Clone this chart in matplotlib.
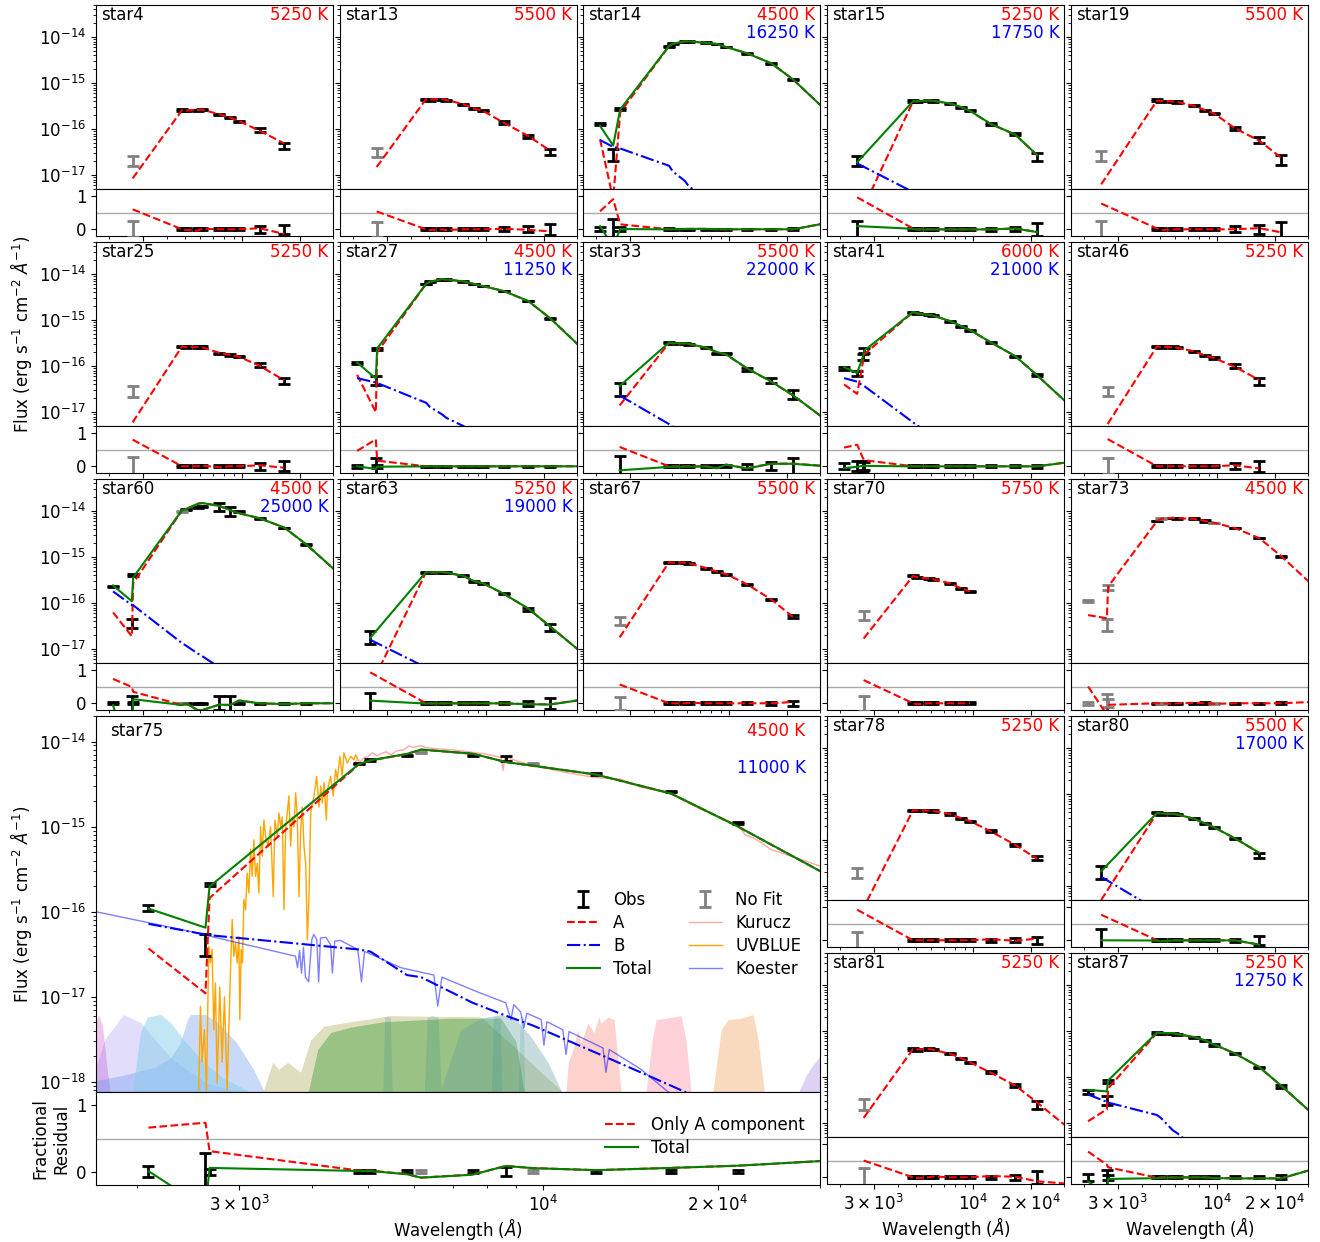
import numpy as np
import matplotlib.pyplot as plt
from matplotlib.ticker import FixedLocator, FixedFormatter, LogLocator, NullFormatter

plt.rcParams['font.family'] = 'DejaVu Sans'
plt.rcParams['font.size'] = 12
plt.rcParams['xtick.labelsize'] = 12
plt.rcParams['ytick.labelsize'] = 12

# ---------------- photometry + fitted models (wavelength in Angstrom) ----------------
s4_wl = [2650, 4820, 5047, 5834, 6170, 7570, 8630, 9610, 12340, 16630]
s4_f = [2.1e-17, 2.6e-16, 2.5e-16, 2.5e-16, 2.7e-16, 2.1e-16, 1.8e-16, 1.5e-16, 9.5e-17, 4.3e-17]
s4_e = [5e-18, 8e-18, 8e-18, 8e-18, 8e-18, 6e-18, 5e-18, 4e-18, 1.0e-17, 6e-18]
s4_fit = [0, 1, 1, 1, 1, 1, 1, 1, 1, 1]
s4_a = [8.5e-18, 2.6e-16, 2.55e-16, 2.6e-16, 2.65e-16, 2.1e-16, 1.8e-16, 1.5e-16, 9.2e-17, 4.9e-17]

s13_wl = [2650, 4820, 5047, 5834, 6170, 7570, 8630, 9610, 12340, 16630, 21680]
s13_f = [3.2e-17, 4.5e-16, 4.3e-16, 4.5e-16, 4.2e-16, 3.5e-16, 2.8e-16, 2.5e-16, 1.4e-16, 7.0e-17, 3.2e-17]
s13_e = [7e-18, 1.2e-17, 1.2e-17, 1.2e-17, 1.2e-17, 9e-18, 8e-18, 7e-18, 8e-18, 6e-18, 5e-18]
s13_fit = [0, 1, 1, 1, 1, 1, 1, 1, 1, 1, 1]
s13_a = [1.5e-17, 4.5e-16, 4.4e-16, 4.5e-16, 4.3e-16, 3.5e-16, 2.8e-16, 2.5e-16, 1.38e-16, 7.1e-17, 3.4e-17]

s14_wl = [2090, 2450, 2667, 4820, 5047, 5834, 6170, 7570, 8630, 9610, 12340, 16630, 21680, 33500]
s14_f = [1.3e-16, 2.9e-17, 2.7e-16, 6.4e-15, 7.2e-15, 8.2e-15, 8.2e-15, 7.6e-15, 7.1e-15, 6.1e-15, 4.5e-15, 2.7e-15, 1.2e-15, 2.75e-16]
s14_e = [8e-18, 8.7e-18, 1.5e-17, 1.5e-16, 1.5e-16, 1.8e-16, 1.8e-16, 1.5e-16, 1.5e-16, 1.2e-16, 9e-17, 5e-17, 3e-17, 1e-17]
s14_fit = [1, 1, 1, 1, 1, 1, 1, 1, 1, 1, 1, 1, 1, 1]
s14_a = [6.0e-17, 3.0e-18, 2.3e-16, 6.4e-15, 7.2e-15, 8.1e-15, 8.1e-15, 7.5e-15, 7.1e-15, 6.1e-15, 4.5e-15, 2.7e-15, 1.2e-15, 2.2e-16]
s14_b = [5.8e-17, 4.1e-17, 3.8e-17, 1.6e-17, 1.2e-17, 7.5e-18, 5.5e-18, 3.5e-18, 2.3e-18, 1.8e-18, 9e-19, 4e-19, 2e-19, 5e-20]

s15_wl = [2450, 4820, 5047, 5834, 6170, 7570, 8630, 9610, 12340, 16630, 21680]
s15_f = [2.1e-17, 4.1e-16, 4.0e-16, 4.2e-16, 4.1e-16, 3.6e-16, 3.0e-16, 2.5e-16, 1.3e-16, 7.8e-17, 2.5e-17]
s15_e = [5e-18, 1.2e-17, 1.2e-17, 1.2e-17, 1.2e-17, 1e-17, 8e-18, 7e-18, 5e-18, 5e-18, 5e-18]
s15_fit = [1, 1, 1, 1, 1, 1, 1, 1, 1, 1, 1]
s15_a = [1.0e-18, 4.0e-16, 4.0e-16, 4.2e-16, 4.1e-16, 3.6e-16, 3.0e-16, 2.5e-16, 1.3e-16, 7.6e-17, 2.7e-17]
s15_b = [1.8e-17, 4.3e-18, 3.8e-18, 2.7e-18, 2.4e-18, 1.6e-18, 1.2e-18, 9e-19, 5e-19, 2.5e-19, 1.2e-19]

s19_wl = [2450, 4820, 5047, 5834, 6170, 7570, 8630, 9610, 12340, 16630, 21680]
s19_f = [2.7e-17, 4.3e-16, 4.0e-16, 4.0e-16, 3.9e-16, 3.2e-16, 2.6e-16, 2.2e-16, 1.05e-16, 5.8e-17, 2.2e-17]
s19_e = [7e-18, 1.2e-17, 1.2e-17, 1.2e-17, 1.1e-17, 9e-18, 7e-18, 6e-18, 9e-18, 8e-18, 5e-18]
s19_fit = [0, 1, 1, 1, 1, 1, 1, 1, 1, 1, 1]
s19_a = [6.3e-18, 4.2e-16, 4.1e-16, 4.0e-16, 3.9e-16, 3.2e-16, 2.6e-16, 2.2e-16, 1.05e-16, 5.6e-17, 2.4e-17]

s25_wl = [2650, 4820, 5047, 5834, 6170, 7570, 8630, 9610, 12340, 16630]
s25_f = [2.9e-17, 2.7e-16, 2.6e-16, 2.6e-16, 2.6e-16, 1.9e-16, 1.75e-16, 1.6e-16, 1.05e-16, 4.7e-17]
s25_e = [8e-18, 8e-18, 8e-18, 8e-18, 8e-18, 6e-18, 5e-18, 5e-18, 1.1e-17, 7e-18]
s25_fit = [0, 1, 1, 1, 1, 1, 1, 1, 1, 1]
s25_a = [6.0e-18, 2.7e-16, 2.6e-16, 2.6e-16, 2.55e-16, 1.95e-16, 1.75e-16, 1.6e-16, 1.02e-16, 4.9e-17]

s27_wl = [2090, 2624, 2667, 4820, 5047, 5834, 6170, 7570, 8630, 9610, 12340, 16630, 21680, 33500]
s27_f = [1.2e-16, 5.0e-17, 2.4e-16, 6.1e-15, 6.8e-15, 7.8e-15, 7.6e-15, 7.0e-15, 6.1e-15, 5.5e-15, 4.3e-15, 2.6e-15, 1.1e-15, 2.0e-16]
s27_e = [6e-18, 1.2e-17, 1e-17, 1.2e-16, 1.4e-16, 1.6e-16, 1.5e-16, 1.4e-16, 1.2e-16, 1.1e-16, 9e-17, 5e-17, 2.5e-17, 1e-17]
s27_fit = [1, 1, 1, 1, 1, 1, 1, 1, 1, 1, 1, 1, 1, 1]
s27_a = [6.5e-17, 1.0e-17, 2.0e-16, 6.1e-15, 6.8e-15, 7.8e-15, 7.6e-15, 7.0e-15, 6.1e-15, 5.5e-15, 4.3e-15, 2.6e-15, 1.1e-15, 2.0e-16]
s27_b = [5.5e-17, 4.4e-17, 4.3e-17, 1.6e-17, 1.3e-17, 9e-18, 7.5e-18, 5e-18, 3.3e-18, 2.6e-18, 1.4e-18, 7e-19, 3e-19, 8e-20]

s33_wl = [2650, 4820, 5047, 5834, 6170, 7570, 8630, 9610, 12340, 16630, 21680, 33500]
s33_f = [3.3e-17, 3.2e-16, 3.1e-16, 3.1e-16, 3.0e-16, 2.5e-16, 1.9e-16, 1.9e-16, 8.5e-17, 5.0e-17, 2.5e-17, 6e-18]
s33_e = [1.0e-17, 8e-18, 8e-18, 8e-18, 8e-18, 6e-18, 5e-18, 5e-18, 6e-18, 6e-18, 6e-18, 2e-18]
s33_fit = [1, 1, 1, 1, 1, 1, 1, 1, 1, 1, 1, 1]
s33_a = [1.4e-17, 3.2e-16, 3.1e-16, 3.1e-16, 3.0e-16, 2.5e-16, 2.0e-16, 1.8e-16, 9.0e-17, 4.6e-17, 2.3e-17, 6e-18]
s33_b = [2.3e-17, 5.5e-18, 4.8e-18, 3.3e-18, 2.9e-18, 1.9e-18, 1.4e-18, 1.1e-18, 6e-19, 3e-19, 1.5e-19, 4e-20]

s41_wl = [2090, 2450, 2624, 2667, 4820, 5047, 5834, 6170, 7570, 8630, 9610, 12340, 16630, 21680, 33500]
s41_f = [9e-17, 7e-17, 1.6e-16, 2.2e-16, 1.5e-15, 1.4e-15, 1.3e-15, 1.25e-15, 9.5e-16, 7.4e-16, 6.1e-16, 3.3e-16, 1.65e-16, 6.3e-17, 1.4e-17]
s41_e = [8e-18, 1e-17, 2.5e-17, 2.5e-17, 4e-17, 4e-17, 3.5e-17, 3.5e-17, 2.5e-17, 2e-17, 1.6e-17, 9e-18, 5e-18, 3e-18, 2e-18]
s41_fit = [1, 1, 1, 1, 1, 1, 1, 1, 1, 1, 1, 1, 1, 1, 1]
s41_a = [4e-17, 2.5e-17, 1.2e-16, 1.8e-16, 1.5e-15, 1.4e-15, 1.3e-15, 1.25e-15, 9.5e-16, 7.4e-16, 6.1e-16, 3.3e-16, 1.65e-16, 6.3e-17, 1.2e-17]
s41_b = [5.5e-17, 4.6e-17, 3.8e-17, 3.7e-17, 6e-18, 5.2e-18, 3.6e-18, 3.1e-18, 2e-18, 1.5e-18, 1.2e-18, 6e-19, 3e-19, 1.4e-19, 4e-20]

s46_wl = [2650, 4820, 5047, 5834, 6170, 7570, 8630, 9610, 12340, 16630]
s46_f = [2.9e-17, 2.7e-16, 2.6e-16, 2.6e-16, 2.5e-16, 2.1e-16, 1.7e-16, 1.5e-16, 1.0e-16, 4.7e-17]
s46_e = [7e-18, 8e-18, 8e-18, 8e-18, 8e-18, 6e-18, 5e-18, 5e-18, 9e-18, 8e-18]
s46_fit = [0, 1, 1, 1, 1, 1, 1, 1, 1, 1]
s46_a = [5.5e-18, 2.7e-16, 2.6e-16, 2.6e-16, 2.5e-16, 2.1e-16, 1.7e-16, 1.5e-16, 9.7e-17, 5.0e-17]

s60_wl = [2090, 2624, 2667, 4820, 5047, 5834, 6170, 7570, 8630, 9610, 12340, 16630, 21680, 33500]
s60_f = [2.3e-16, 3.7e-17, 4.1e-16, 1.0e-14, 1.1e-14, 1.2e-14, 1.25e-14, 1.25e-14, 1.0e-14, 9.8e-15, 7.0e-15, 4.3e-15, 1.9e-15, 3.8e-16]
s60_e = [8e-18, 8e-18, 1.2e-17, 2e-16, 2.2e-16, 2.4e-16, 2.5e-16, 2.6e-15, 2.2e-15, 2e-16, 1.4e-16, 9e-17, 4e-17, 1e-17]
s60_fit = [1, 1, 1, 0, 1, 1, 1, 1, 1, 1, 1, 1, 1, 1]
s60_a = [6.3e-17, 1.9e-17, 2.7e-16, 1.05e-14, 1.1e-14, 1.45e-14, 1.5e-14, 1.3e-14, 1.05e-14, 9.0e-15, 7.0e-15, 4.4e-15, 1.9e-15, 3.8e-16]
s60_b = [1.8e-16, 9.1e-17, 9.0e-17, 1.35e-17, 1.2e-17, 8e-18, 7e-18, 4e-18, 2.8e-18, 2.2e-18, 1.1e-18, 5e-19, 2.2e-19, 6e-20]

s63_wl = [2450, 4820, 5047, 5834, 6170, 7570, 8630, 9610, 12340, 16630, 21680, 33500]
s63_f = [1.9e-17, 4.7e-16, 4.6e-16, 4.7e-16, 4.6e-16, 3.9e-16, 3.0e-16, 2.7e-16, 1.6e-16, 7.4e-17, 3.0e-17, 8e-18]
s63_e = [6e-18, 1.2e-17, 1.2e-17, 1.2e-17, 1.2e-17, 1e-17, 8e-18, 7e-18, 5e-18, 6e-18, 5e-18, 2e-18]
s63_fit = [1, 1, 1, 1, 1, 1, 1, 1, 1, 1, 1, 1]
s63_a = [1.5e-18, 4.7e-16, 4.6e-16, 4.7e-16, 4.6e-16, 3.9e-16, 3.0e-16, 2.7e-16, 1.6e-16, 7.6e-17, 3.1e-17, 7e-18]
s63_b = [1.6e-17, 4e-18, 3.5e-18, 2.5e-18, 2.2e-18, 1.4e-18, 1e-18, 8e-19, 4e-19, 2e-19, 1e-19, 3e-20]

s67_wl = [2650, 4820, 5047, 5834, 6170, 7570, 8630, 9610, 12340, 16630, 21680]
s67_f = [4.1e-17, 7.8e-16, 7.6e-16, 7.6e-16, 7.4e-16, 5.8e-16, 4.8e-16, 4.3e-16, 2.6e-16, 1.2e-16, 5.2e-17]
s67_e = [8e-18, 2e-17, 2e-17, 2e-17, 2e-17, 1.5e-17, 1.2e-17, 1.1e-17, 7e-18, 5e-18, 4e-18]
s67_fit = [0, 1, 1, 1, 1, 1, 1, 1, 1, 1, 1]
s67_a = [1.8e-17, 7.8e-16, 7.6e-16, 7.6e-16, 7.3e-16, 5.8e-16, 4.8e-16, 4.3e-16, 2.6e-16, 1.2e-16, 5.0e-17]

s70_wl = [2650, 4820, 5047, 5834, 6170, 7570, 8630, 9610]
s70_f = [5.5e-17, 3.9e-16, 3.6e-16, 3.4e-16, 3.3e-16, 2.7e-16, 2.1e-16, 1.8e-16]
s70_e = [1.2e-17, 1e-17, 1e-17, 1e-17, 1e-17, 8e-18, 6e-18, 5e-18]
s70_fit = [0, 1, 1, 1, 1, 1, 1, 1]
s70_a = [1.7e-17, 3.9e-16, 3.7e-16, 3.4e-16, 3.3e-16, 2.7e-16, 2.1e-16, 1.8e-16]

s73_wl = [2090, 2624, 2667, 4820, 5047, 5834, 6170, 7570, 8630, 9610, 12340, 16630, 21680, 33500]
s73_f = [1.1e-16, 3.5e-17, 2.2e-16, 6.1e-15, 6.8e-15, 7.1e-15, 7.0e-15, 6.9e-15, 6.1e-15, 5.5e-15, 4.3e-15, 2.6e-15, 1.05e-15, 2.1e-16]
s73_e = [5e-18, 1e-17, 2.5e-17, 1.2e-16, 1.4e-16, 1.4e-16, 1.4e-16, 1.4e-16, 2e-16, 1.1e-16, 9e-17, 5e-17, 2.5e-17, 1e-17]
s73_fit = [0, 0, 0, 1, 0, 1, 1, 1, 1, 0, 1, 1, 1, 1]
s73_a = [5.5e-17, 4.7e-17, 2.3e-16, 6.1e-15, 6.8e-15, 7.2e-15, 7.0e-15, 6.8e-15, 6.1e-15, 5.6e-15, 4.3e-15, 2.6e-15, 1.05e-15, 2.0e-16]

s75_wl = [2093, 2624, 2667, 4820, 5047, 5834, 6170, 7570, 8630, 9610, 12340, 16630, 21680, 33500]
s75_f = [1.1e-16, 4.2e-17, 2.1e-16, 5.5e-15, 6.1e-15, 6.9e-15, 7.4e-15, 6.9e-15, 6.3e-15, 5.5e-15, 4.2e-15, 2.6e-15, 1.1e-15, 2.45e-16]
s75_e = [9e-18, 1.2e-17, 1e-17, 1.1e-16, 1.2e-16, 1.4e-16, 1.5e-16, 1.4e-16, 4.4e-16, 1.1e-16, 1e-16, 5e-17, 2.5e-17, 1e-17]
s75_fit = [1, 1, 1, 1, 1, 1, 0, 1, 1, 0, 1, 1, 1, 1]
s75_a = [3.7e-17, 1.1e-17, 1.45e-16, 5.4e-15, 6.0e-15, 7.15e-15, 8.05e-15, 7.2e-15, 5.75e-15, 5.2e-15, 4.1e-15, 2.45e-15, 1.0e-15, 2.0e-16]
s75_b = [7.2e-17, 5.4e-17, 5.3e-17, 3.6e-17, 3.4e-17, 1.8e-17, 1.7e-17, 8.5e-18, 6e-18, 4.6e-18, 2.2e-18, 9e-19, 4e-19, 1e-19]

s78_wl = [2450, 4820, 5047, 5834, 6170, 7570, 8630, 9610, 12340, 16630, 21680]
s78_f = [2.0e-17, 4.5e-16, 4.4e-16, 4.4e-16, 4.3e-16, 3.7e-16, 3.0e-16, 2.6e-16, 1.6e-16, 7.8e-17, 4.1e-17]
s78_e = [5e-18, 1.2e-17, 1.2e-17, 1.2e-17, 1.2e-17, 1e-17, 8e-18, 7e-18, 6e-18, 5e-18, 4e-18]
s78_fit = [0, 1, 1, 1, 1, 1, 1, 1, 1, 1, 1]
s78_a = [1.8e-18, 4.5e-16, 4.4e-16, 4.4e-16, 4.3e-16, 3.7e-16, 3.0e-16, 2.6e-16, 1.55e-16, 7.9e-17, 3.9e-17]

s80_wl = [2450, 4820, 5047, 5834, 6170, 7570, 8630, 9610, 12340, 16630]
s80_f = [2.1e-17, 3.9e-16, 3.7e-16, 3.7e-16, 3.6e-16, 2.9e-16, 2.3e-16, 1.9e-16, 1.1e-16, 4.7e-17]
s80_e = [7e-18, 1e-17, 1e-17, 1e-17, 1e-17, 8e-18, 6e-18, 5e-18, 4e-18, 6e-18]
s80_fit = [1, 1, 1, 1, 1, 1, 1, 1, 1, 1]
s80_a = [5e-18, 3.9e-16, 3.8e-16, 3.7e-16, 3.6e-16, 2.9e-16, 2.3e-16, 1.9e-16, 1.1e-16, 5.3e-17]
s80_b = [1.6e-17, 3e-18, 2.6e-18, 1.8e-18, 1.6e-18, 1.0e-18, 7.5e-19, 6e-19, 3e-19, 1.5e-19]

s81_wl = [2650, 4820, 5047, 5834, 6170, 7570, 8630, 9610, 12340, 16630, 21680, 33500]
s81_f = [2.6e-17, 4.1e-16, 3.9e-16, 4.1e-16, 4.0e-16, 3.2e-16, 2.6e-16, 2.1e-16, 1.3e-16, 6.7e-17, 2.5e-17, 5.4e-18]
s81_e = [7e-18, 1.1e-17, 1.1e-17, 1.1e-17, 1.1e-17, 9e-18, 7e-18, 6e-18, 5e-18, 5e-18, 5e-18, 2e-18]
s81_fit = [0, 1, 1, 1, 1, 1, 1, 1, 1, 1, 1, 1]
s81_a = [1.3e-17, 4.1e-16, 4.0e-16, 4.1e-16, 3.9e-16, 3.2e-16, 2.6e-16, 2.1e-16, 1.25e-16, 6.6e-17, 2.8e-17, 6.5e-18]

s87_wl = [2090, 2624, 2667, 4820, 5047, 5834, 6170, 7570, 8630, 9610, 12340, 16630, 21680, 33500]
s87_f = [4.7e-17, 3.2e-17, 8.1e-17, 9.1e-16, 9.0e-16, 9.0e-16, 8.6e-16, 7.4e-16, 6.3e-16, 5.0e-16, 3.2e-16, 1.6e-16, 6.3e-17, 1.8e-17]
s87_e = [5e-18, 7e-18, 6e-18, 2.5e-17, 2.5e-17, 2.5e-17, 2.4e-17, 2e-17, 1.7e-17, 1.4e-17, 9e-18, 5e-18, 4e-18, 2e-18]
s87_fit = [1, 1, 1, 1, 1, 1, 1, 1, 1, 1, 1, 1, 1, 1]
s87_a = [1.1e-17, 2.0e-17, 5.7e-17, 9.2e-16, 9.0e-16, 9.0e-16, 8.6e-16, 7.4e-16, 6.3e-16, 5.1e-16, 3.3e-16, 1.65e-16, 6.5e-17, 1.3e-17]
s87_b = [4.2e-17, 2.9e-17, 2.8e-17, 1.5e-17, 1.3e-17, 7e-18, 6e-18, 3e-18, 2.2e-18, 1.7e-18, 9e-19, 4e-19, 2e-19, 5e-20]

# ---------------- model spectra shown for star75 ----------------
kur_wl = [4720, 4780, 4850, 4920, 4990, 5080, 5180, 5260, 5370, 5470, 5600, 5760, 5880, 5990,
          6150, 6290, 6600, 7000, 7430, 8000, 8480, 8540, 8600, 9270, 10040, 11040, 12240,
          13620, 14750, 16430, 18720, 21680, 22300, 23000, 23500, 24700, 26000, 27860, 30150]
kur_f = [5.4e-15, 6.1e-15, 5.8e-15, 6.5e-15, 6.6e-15, 7.4e-15, 6.8e-15, 7.2e-15, 7.6e-15, 7.0e-15,
         7.8e-15, 8.0e-15, 8.9e-15, 8.5e-15, 9.0e-15, 8.5e-15, 8.2e-15, 8.0e-15, 7.6e-15, 7.1e-15,
         6.5e-15, 4.6e-15, 6.6e-15, 5.6e-15, 4.9e-15, 4.3e-15, 3.8e-15, 3.6e-15, 2.9e-15, 2.5e-15,
         1.6e-15, 1.05e-15, 8.0e-16, 7.4e-16, 6.8e-16, 5.4e-16, 4.8e-16, 4.1e-16, 3.4e-16]

uvb_wl = [2555, 2572, 2589, 2613, 2634, 2659, 2676, 2694, 2712, 2730, 2748, 2777, 2803, 2829, 2859,
          2898, 2917, 2936, 2956, 2975, 2995, 3007, 3023, 3039, 3055, 3076, 3096, 3117, 3137, 3158,
          3179, 3200, 3222, 3243, 3265, 3286, 3308, 3330, 3361, 3397, 3433, 3456, 3488, 3511, 3534,
          3558, 3582, 3605, 3653, 3678, 3702, 3727, 3752, 3776, 3802, 3827, 3852, 3878, 3904, 3930,
          3956, 3982, 4035, 4078, 4116, 4143, 4171, 4199, 4238, 4255, 4309, 4355, 4396, 4425, 4472,
          4513, 4543, 4604, 4665, 4727, 4760, 4800]
uvb_f = [8.0e-19, 7.7e-18, 1.7e-18, 4.1e-18, 8.0e-19, 3.9e-17, 2.5e-17, 3.6e-17, 4.1e-18, 1.45e-17,
         9.6e-19, 1.3e-17, 1.7e-18, 1.0e-17, 8.0e-19, 2.1e-17, 8.1e-17, 3.0e-17, 4.3e-17, 2.5e-17,
         5.1e-17, 5.4e-18, 3.6e-17, 2.5e-17, 1.4e-16, 1.06e-16, 2.85e-16, 1.66e-16, 5.4e-16, 2.6e-16,
         7.0e-16, 2.6e-16, 3.7e-16, 1.66e-16, 1.0e-15, 4.5e-16, 1.2e-15, 7.7e-16, 5.9e-16, 1.0e-15,
         1.5e-16, 1.2e-15, 7.7e-16, 1.45e-15, 1.0e-15, 1.3e-15, 1.06e-16, 9.2e-16, 2.3e-15, 5.9e-16,
         1.3e-15, 1.0e-15, 2.5e-15, 1.3e-15, 1.5e-16, 9.2e-16, 1.7e-15, 5.9e-16, 3.7e-16, 4.7e-17,
         1.5e-16, 1.45e-15, 2.3e-15, 3.9e-15, 1.7e-15, 3.0e-15, 1.9e-15, 3.3e-15, 1.2e-15, 2.7e-15,
         3.9e-15, 2.3e-15, 4.7e-15, 3.6e-15, 6.7e-15, 3.9e-15, 7.4e-15, 5.6e-15, 6.7e-15, 6.1e-15,
         7.0e-15, 6.2e-15]

koe_wl = [1700, 2380, 3750, 3780, 3810, 3840, 3870, 3900, 3950, 4000, 4030, 4080, 4110, 4140, 4230,
          4310, 4340, 4380, 4480, 4800, 4870, 4930, 4990, 5690, 6490, 6590, 6700, 7820, 8630, 8810,
          8910, 9160, 9270, 9380, 9930, 10040, 10160, 10820, 10960, 11090, 12690, 12840, 13010,
          14760, 16440, 18710]
koe_f = [1.0e-16, 6.2e-17, 3.0e-17, 2.2e-17, 3.5e-17, 1.9e-17, 3.8e-17, 1.7e-17, 1.5e-17, 4.7e-17,
         5.4e-17, 4.7e-17, 1.5e-17, 4.9e-17, 5.0e-17, 4.1e-17, 1.9e-17, 4.5e-17, 4.6e-17, 3.6e-17,
         1.5e-17, 3.4e-17, 3.3e-17, 2.2e-17, 1.8e-17, 7.8e-18, 1.7e-17, 1.1e-17, 8.5e-18, 5.4e-18,
         8.1e-18, 6.6e-18, 4.3e-18, 6.4e-18, 5.4e-18, 2.7e-18, 5.1e-18, 4.1e-18, 2.1e-18, 3.9e-18,
         2.5e-18, 1.3e-18, 2.4e-18, 1.4e-18, 7.6e-19, 4.7e-19]

# filter transmission profiles, scaled into the flux axis of the star75 panel
filt_fuv_wl = [1680, 1702, 1716, 1745, 1775, 1800]
filt_fuv_f = [2e-18, 5.0e-18, 6.2e-18, 4.5e-18, 1.5e-18, 7e-19]
filt_uvw2_wl = [1702, 1757, 1895, 2027, 2168, 2311, 2473, 2645, 2980]
filt_uvw2_f = [1.5e-18, 3.1e-18, 6.2e-18, 5.0e-18, 2.9e-18, 1.8e-18, 1.3e-18, 9.7e-19, 7.6e-19]
filt_uvm2_wl = [1972, 2027, 2084, 2194, 2283, 2410, 2585, 2818, 3138]
filt_uvm2_f = [9e-19, 3.8e-18, 5.8e-18, 6.2e-18, 5.0e-18, 3.1e-18, 1.8e-18, 1.1e-18, 7.6e-19]
filt_nuv_wl = [1650, 1900, 2150, 2283, 2376, 2443, 2473, 2624, 2752, 2968, 3176, 3304]
filt_nuv_f = [1.0e-18, 1.2e-18, 1.5e-18, 1.9e-18, 2.9e-18, 5.4e-18, 6.2e-18, 6.2e-18, 5.0e-18, 2.9e-18, 1.4e-18, 8e-19]
filt_g_wl = [3304, 3424, 3506, 3634, 3826, 3981, 4193, 4667, 5470, 7820, 8913, 9920, 10740]
filt_g_f = [8e-19, 1.7e-18, 1.4e-18, 1.7e-18, 1.3e-18, 3.1e-18, 4.5e-18, 5.1e-18, 6.0e-18, 5.8e-18, 2.6e-18, 1.3e-18, 8e-19]
filt_bp_wl = [3950, 4094, 4311, 4667, 5320, 6940, 8465, 8980, 9270]
filt_bp_f = [8e-19, 2.4e-18, 3.8e-18, 4.4e-18, 5.1e-18, 5.6e-18, 5.6e-18, 3.0e-18, 8e-19]
filt_nb1_wl = [5300, 5340, 5400, 5460, 5500]
filt_nb2_wl = [6250, 6320, 6450, 6600, 6680]
filt_nb3_wl = [8150, 8220, 8330, 8440, 8500]
filt_nb4_wl = [9080, 9130, 9200, 9260, 9300]
filt_nb_f = [8e-19, 5.8e-18, 6.0e-18, 5.8e-18, 8e-19]
filt_rp_wl = [6670, 7220, 7820, 8465, 8980, 9535, 10200, 10740]
filt_rp_f = [8e-19, 4.1e-18, 5.6e-18, 6.2e-18, 5.4e-18, 3.4e-18, 1.7e-18, 8e-19]
filt_j_wl = [10960, 11060, 11270, 11490, 11630, 11960, 12240, 12490, 12590, 12950, 13260, 13470, 13630]
filt_j_f = [7.9e-19, 1.7e-18, 2.4e-18, 4.1e-18, 2.9e-18, 4.9e-18, 3.8e-18, 5.8e-18, 4.9e-18, 5.8e-18, 5.4e-18, 1.7e-18, 7.9e-19]
filt_h_wl = [15060, 15420, 15670, 16300, 17290, 17640, 17990]
filt_h_f = [7.9e-19, 3.1e-18, 5.4e-18, 5.6e-18, 6.0e-18, 3.1e-18, 7.9e-19]
filt_k_wl = [19640, 20270, 20840, 21950, 23020, 23480, 24040]
filt_k_f = [7.9e-19, 4.1e-18, 5.4e-18, 5.6e-18, 6.2e-18, 3.1e-18, 7.9e-19]
filt_w1_wl = [27630, 28410, 29210, 30150, 31390, 33000]
filt_w1_f = [7.9e-19, 1.2e-18, 1.6e-18, 2.1e-18, 2.6e-18, 4e-18]

# ---------------- layout ----------------
W, H = 1320, 1242
fig = plt.figure(figsize=(W / 100, H / 100), dpi=100)

COLS = [96, 340, 583, 827, 1071]
ROWS = [5, 242, 479, 716, 953]
PW, MH, RH = 237, 184, 47


def add_px(x, y, w, h):
    return fig.add_axes([x / W, 1 - (y + h) / H, w / W, h / H])


def style(ax, axr, left, bottom, ylim, decades):
    for a in (ax, axr):
        a.set_xscale('log')
        a.set_xlim(1700, 30000)
        a.xaxis.set_major_locator(FixedLocator([3000, 10000, 20000]))
        a.xaxis.set_major_formatter(FixedFormatter([r'$3\times10^{3}$', r'$10^{4}$', r'$2\times10^{4}$']))
        a.xaxis.set_minor_locator(LogLocator(base=10, subs=np.arange(2, 10)))
        a.xaxis.set_minor_formatter(NullFormatter())
    ax.set_yscale('log')
    ax.set_ylim(*ylim)
    ax.yaxis.set_major_locator(FixedLocator(decades))
    ax.yaxis.set_minor_formatter(NullFormatter())
    ax.tick_params(axis='x', which='both', bottom=False, labelbottom=False)
    axr.set_ylim(-0.2, 1.2)
    axr.set_yticks([0, 1])
    if not bottom:
        axr.tick_params(axis='x', labelbottom=False)
    if not left:
        ax.tick_params(axis='y', which='both', labelleft=False)
        axr.tick_params(axis='y', labelleft=False)


eb_kw = dict(fmt='none', elinewidth=2, capsize=4, capthick=2, zorder=3)


def draw(ax, axr, wl, f, e, fit, a, b=None):
    wl, f, e, a = (np.asarray(v, float) for v in (wl, f, e, a))
    fit = np.asarray(fit, bool)
    handles = {}
    if fit.any():
        handles['obs'] = ax.errorbar(wl[fit], f[fit], yerr=e[fit], ecolor='k', **eb_kw)
        axr.errorbar(wl[fit], np.zeros(fit.sum()), yerr=(e / f)[fit], ecolor='k', **eb_kw)
    if (~fit).any():
        handles['nofit'] = ax.errorbar(wl[~fit], f[~fit], yerr=e[~fit], ecolor='gray', **eb_kw)
        axr.errorbar(wl[~fit], np.zeros((~fit).sum()), yerr=(e / f)[~fit], ecolor='gray', **eb_kw)
    handles['a'], = ax.plot(wl, a, color='red', ls='--', lw=1.5, zorder=4)
    axr.axhline(0.5, color='darkgray', lw=1, zorder=1)
    handles['ra'], = axr.plot(wl, (f - a) / f, color='red', ls='--', lw=1.5, zorder=4)
    if b is not None:
        b = np.asarray(b, float)
        handles['b'], = ax.plot(wl, b, color='blue', ls='-.', lw=1.5, zorder=4)
        handles['tot'], = ax.plot(wl, a + b, color='green', lw=1.5, zorder=5)
        handles['rtot'], = axr.plot(wl, (f - a - b) / f, color='green', lw=1.5, zorder=5)
    return handles


def labels(ax, name, temps, y1, y2):
    ax.text(0.02, y1, name, transform=ax.transAxes, ha='left', va='center', fontsize=12)
    ax.text(0.98, y1, f'{temps[0]} K', transform=ax.transAxes, ha='right', va='center',
            color='red', fontsize=12)
    if len(temps) > 1:
        ax.text(0.98, y2, f'{temps[1]} K', transform=ax.transAxes, ha='right', va='center',
                color='blue', fontsize=12)


small = [
    (0, 0, 'star4', [5250], s4_wl, s4_f, s4_e, s4_fit, s4_a, None),
    (0, 1, 'star13', [5500], s13_wl, s13_f, s13_e, s13_fit, s13_a, None),
    (0, 2, 'star14', [4500, 16250], s14_wl, s14_f, s14_e, s14_fit, s14_a, s14_b),
    (0, 3, 'star15', [5250, 17750], s15_wl, s15_f, s15_e, s15_fit, s15_a, s15_b),
    (0, 4, 'star19', [5500], s19_wl, s19_f, s19_e, s19_fit, s19_a, None),
    (1, 0, 'star25', [5250], s25_wl, s25_f, s25_e, s25_fit, s25_a, None),
    (1, 1, 'star27', [4500, 11250], s27_wl, s27_f, s27_e, s27_fit, s27_a, s27_b),
    (1, 2, 'star33', [5500, 22000], s33_wl, s33_f, s33_e, s33_fit, s33_a, s33_b),
    (1, 3, 'star41', [6000, 21000], s41_wl, s41_f, s41_e, s41_fit, s41_a, s41_b),
    (1, 4, 'star46', [5250], s46_wl, s46_f, s46_e, s46_fit, s46_a, None),
    (2, 0, 'star60', [4500, 25000], s60_wl, s60_f, s60_e, s60_fit, s60_a, s60_b),
    (2, 1, 'star63', [5250, 19000], s63_wl, s63_f, s63_e, s63_fit, s63_a, s63_b),
    (2, 2, 'star67', [5500], s67_wl, s67_f, s67_e, s67_fit, s67_a, None),
    (2, 3, 'star70', [5750], s70_wl, s70_f, s70_e, s70_fit, s70_a, None),
    (2, 4, 'star73', [4500], s73_wl, s73_f, s73_e, s73_fit, s73_a, None),
    (3, 3, 'star78', [5250], s78_wl, s78_f, s78_e, s78_fit, s78_a, None),
    (3, 4, 'star80', [5500, 17000], s80_wl, s80_f, s80_e, s80_fit, s80_a, s80_b),
    (4, 3, 'star81', [5250], s81_wl, s81_f, s81_e, s81_fit, s81_a, None),
    (4, 4, 'star87', [5250, 12750], s87_wl, s87_f, s87_e, s87_fit, s87_a, s87_b),
]

flux_label = r'Flux (erg s$^{-1}$ cm$^{-2}$ $\AA^{-1}$)'
wave_label = r'Wavelength ($\AA$)'

for r, c, name, temps, wl, f, e, fit, a, b in small:
    ax = add_px(COLS[c], ROWS[r], PW, MH)
    axr = add_px(COLS[c], ROWS[r] + MH, PW, RH)
    draw(ax, axr, wl, f, e, fit, a, b)
    style(ax, axr, left=(c == 0), bottom=(r == 4), ylim=(5e-18, 5e-14),
          decades=[1e-17, 1e-16, 1e-15, 1e-14])
    labels(ax, name, temps, 0.946, 0.848)
    if name == 'star25':
        ax.set_ylabel(flux_label)
    if r == 4:
        axr.set_xlabel(wave_label, labelpad=1)

# ---------------- big panel: star75 ----------------
ax = add_px(96, 716, 724, 376)
axr = add_px(96, 1092, 724, 93)

filters = [
    (filt_fuv_wl, filt_fuv_f, 'orchid', 0.4),
    (filt_uvw2_wl, filt_uvw2_f, 'mediumslateblue', 0.22),
    (filt_nuv_wl, filt_nuv_f, 'cornflowerblue', 0.35),
    (filt_uvm2_wl, filt_uvm2_f, 'skyblue', 0.5),
    (filt_g_wl, filt_g_f, 'olive', 0.25),
    (filt_bp_wl, filt_bp_f, 'green', 0.3),
    (filt_nb1_wl, filt_nb_f, 'teal', 0.15),
    (filt_nb2_wl, filt_nb_f, 'teal', 0.15),
    (filt_nb3_wl, filt_nb_f, 'teal', 0.15),
    (filt_nb4_wl, filt_nb_f, 'teal', 0.15),
    (filt_rp_wl, filt_rp_f, 'cadetblue', 0.35),
    (filt_j_wl, filt_j_f, 'salmon', 0.35),
    (filt_h_wl, filt_h_f, 'pink', 0.7),
    (filt_k_wl, filt_k_f, 'sandybrown', 0.4),
    (filt_w1_wl, filt_w1_f, 'mediumpurple', 0.3),
]
for fw, ff, col, al in filters:
    ax.fill_between(fw, 1e-19, ff, color=col, alpha=al, lw=0, zorder=0)

h_kur, = ax.plot(kur_wl, kur_f, color='red', alpha=0.35, lw=1, zorder=1)
h_uvb, = ax.plot(uvb_wl, uvb_f, color='orange', lw=1, zorder=1)
h_koe, = ax.plot(koe_wl, koe_f, color='blue', alpha=0.5, lw=1, zorder=1)

hd = draw(ax, axr, s75_wl, s75_f, s75_e, s75_fit, s75_a, s75_b)
style(ax, axr, left=True, bottom=True, ylim=(7.6e-19, 2e-14),
      decades=[1e-18, 1e-17, 1e-16, 1e-15, 1e-14])
labels(ax, 'star75', [4500, 11000], 0.96, 0.862)
ax.set_ylabel(flux_label)
axr.set_ylabel('Fractional\nResidual')
axr.set_xlabel(wave_label, labelpad=1)

ax.legend([hd['obs'], hd['a'], hd['b'], hd['tot'], hd['nofit'], h_kur, h_uvb, h_koe],
          ['Obs', 'A', 'B', 'Total', 'No Fit', 'Kurucz', 'UVBLUE', 'Koester'],
          ncol=2, loc='upper right', bbox_to_anchor=(0.995, 0.575), frameon=False,
          fontsize=12, columnspacing=2.2, handlelength=2.0, labelspacing=0.3)
axr.legend([hd['ra'], hd['rtot']], ['Only A component', 'Total'], loc='upper right',
           bbox_to_anchor=(1.0, 0.9), frameon=False, fontsize=12, labelspacing=0.3)

fig.savefig('out.png', dpi=100)
